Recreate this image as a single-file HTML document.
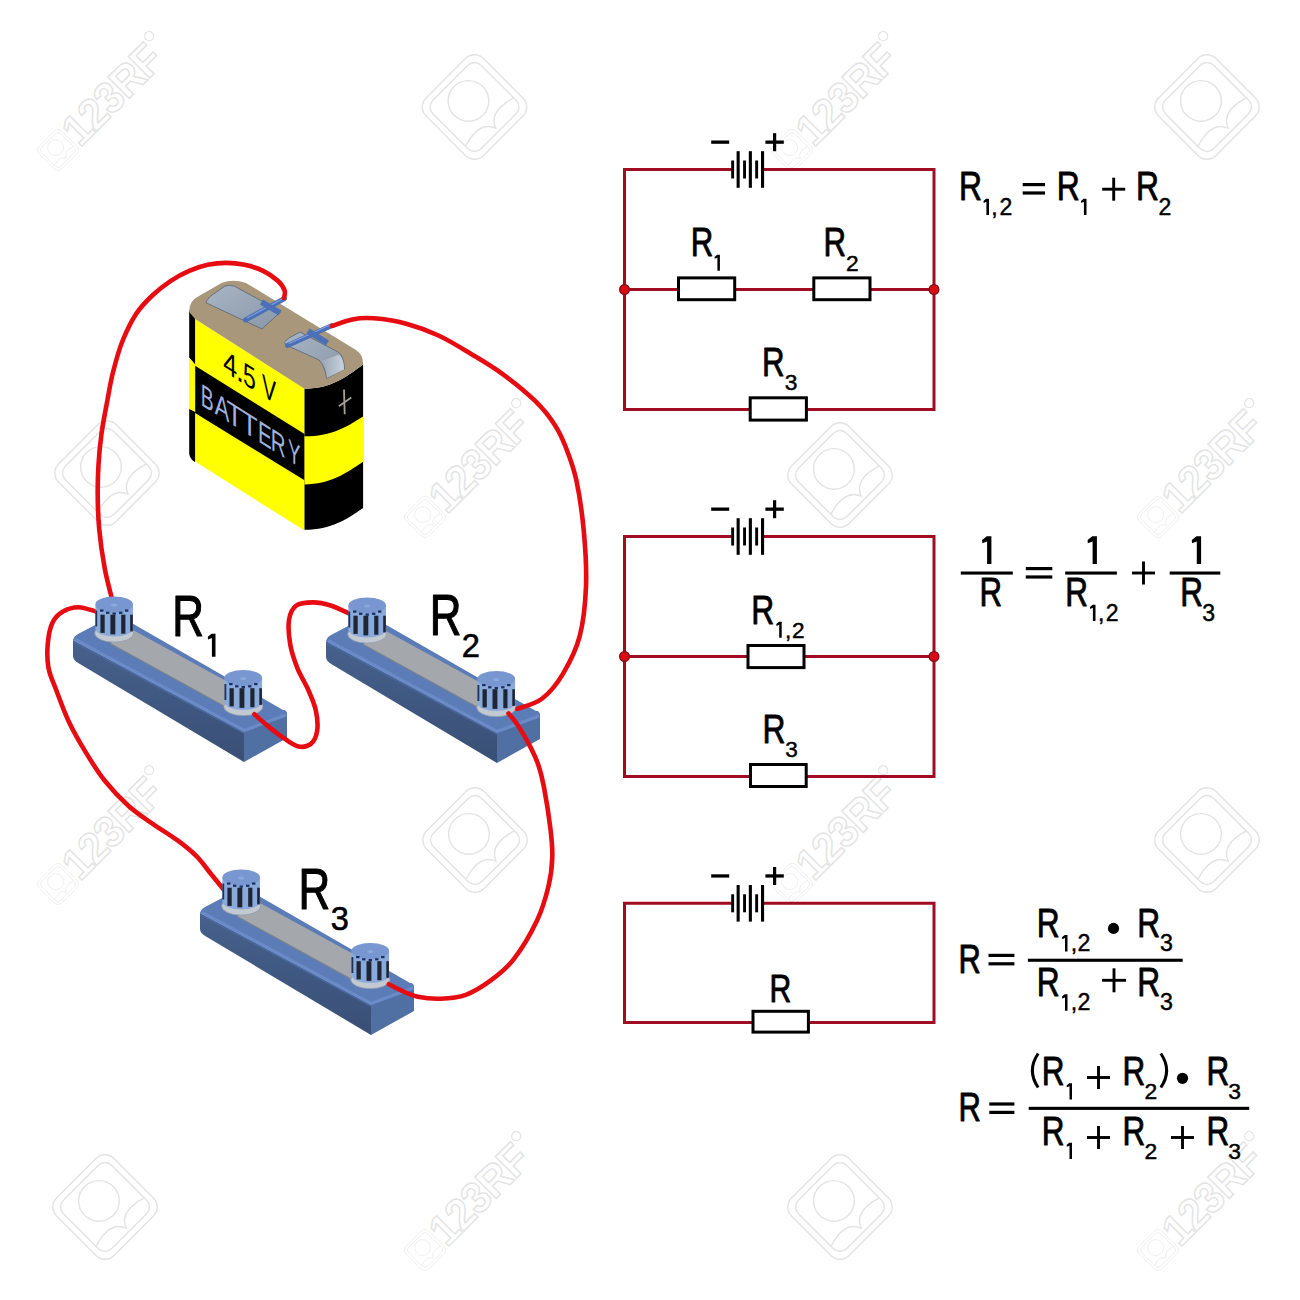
<!DOCTYPE html><html><head><meta charset="utf-8"><style>html,body{margin:0;padding:0;width:1300px;height:1300px;overflow:hidden;background:#fff}</style></head><body><svg width="1300" height="1300" viewBox="0 0 1300 1300" style="position:absolute;left:0;top:0" font-family="Liberation Sans, sans-serif"><rect width="1300" height="1300" fill="#fff"/><defs><linearGradient id="ff" x1="0" y1="0" x2="0" y2="1"><stop offset="0" stop-color="#46618c"/><stop offset="1" stop-color="#394f76"/></linearGradient></defs><g transform="translate(474.5,107) scale(1.07) rotate(45)" fill="none" stroke="#e3e3e3" stroke-width="1.3"><rect x="-38" y="-38" width="76" height="76" rx="12"/><rect x="-32" y="-32" width="64" height="64" rx="9"/><circle cx="-8" cy="0" r="19"/><path d="M20,-32 Q12,-6 28,0 Q12,6 20,32"/></g><g transform="translate(1207,107) scale(1.07) rotate(45)" fill="none" stroke="#e3e3e3" stroke-width="1.3"><rect x="-38" y="-38" width="76" height="76" rx="12"/><rect x="-32" y="-32" width="64" height="64" rx="9"/><circle cx="-8" cy="0" r="19"/><path d="M20,-32 Q12,-6 28,0 Q12,6 20,32"/></g><g transform="translate(107,473) scale(1.07) rotate(45)" fill="none" stroke="#e3e3e3" stroke-width="1.3"><rect x="-38" y="-38" width="76" height="76" rx="12"/><rect x="-32" y="-32" width="64" height="64" rx="9"/><circle cx="-8" cy="0" r="19"/><path d="M20,-32 Q12,-6 28,0 Q12,6 20,32"/></g><g transform="translate(840,475) scale(1.07) rotate(45)" fill="none" stroke="#e3e3e3" stroke-width="1.3"><rect x="-38" y="-38" width="76" height="76" rx="12"/><rect x="-32" y="-32" width="64" height="64" rx="9"/><circle cx="-8" cy="0" r="19"/><path d="M20,-32 Q12,-6 28,0 Q12,6 20,32"/></g><g transform="translate(475,840) scale(1.07) rotate(45)" fill="none" stroke="#e3e3e3" stroke-width="1.3"><rect x="-38" y="-38" width="76" height="76" rx="12"/><rect x="-32" y="-32" width="64" height="64" rx="9"/><circle cx="-8" cy="0" r="19"/><path d="M20,-32 Q12,-6 28,0 Q12,6 20,32"/></g><g transform="translate(1207,840) scale(1.07) rotate(45)" fill="none" stroke="#e3e3e3" stroke-width="1.3"><rect x="-38" y="-38" width="76" height="76" rx="12"/><rect x="-32" y="-32" width="64" height="64" rx="9"/><circle cx="-8" cy="0" r="19"/><path d="M20,-32 Q12,-6 28,0 Q12,6 20,32"/></g><g transform="translate(105,1207) scale(1.07) rotate(45)" fill="none" stroke="#e3e3e3" stroke-width="1.3"><rect x="-38" y="-38" width="76" height="76" rx="12"/><rect x="-32" y="-32" width="64" height="64" rx="9"/><circle cx="-8" cy="0" r="19"/><path d="M20,-32 Q12,-6 28,0 Q12,6 20,32"/></g><g transform="translate(840,1207) scale(1.07) rotate(45)" fill="none" stroke="#e3e3e3" stroke-width="1.3"><rect x="-38" y="-38" width="76" height="76" rx="12"/><rect x="-32" y="-32" width="64" height="64" rx="9"/><circle cx="-8" cy="0" r="19"/><path d="M20,-32 Q12,-6 28,0 Q12,6 20,32"/></g><g transform="translate(58,150) scale(0.42) rotate(45)" fill="none" stroke="#e3e3e3" stroke-width="1.3"><rect x="-38" y="-38" width="76" height="76" rx="12"/><rect x="-32" y="-32" width="64" height="64" rx="9"/><circle cx="-8" cy="0" r="19"/><path d="M20,-32 Q12,-6 28,0 Q12,6 20,32"/></g><g transform="translate(70,138) rotate(-45)"><text x="0" y="14" font-size="44" font-weight="bold" fill="none" stroke="#e3e3e3" stroke-width="1.4" letter-spacing="-1" transform="scale(0.95,1.0)">123RF</text><circle cx="128" cy="-16" r="4.5" fill="none" stroke="#e3e3e3" stroke-width="1.2"/></g><g transform="translate(792,150) scale(0.42) rotate(45)" fill="none" stroke="#e3e3e3" stroke-width="1.3"><rect x="-38" y="-38" width="76" height="76" rx="12"/><rect x="-32" y="-32" width="64" height="64" rx="9"/><circle cx="-8" cy="0" r="19"/><path d="M20,-32 Q12,-6 28,0 Q12,6 20,32"/></g><g transform="translate(804,138) rotate(-45)"><text x="0" y="14" font-size="44" font-weight="bold" fill="none" stroke="#e3e3e3" stroke-width="1.4" letter-spacing="-1" transform="scale(0.95,1.0)">123RF</text><circle cx="128" cy="-16" r="4.5" fill="none" stroke="#e3e3e3" stroke-width="1.2"/></g><g transform="translate(425,517) scale(0.42) rotate(45)" fill="none" stroke="#e3e3e3" stroke-width="1.3"><rect x="-38" y="-38" width="76" height="76" rx="12"/><rect x="-32" y="-32" width="64" height="64" rx="9"/><circle cx="-8" cy="0" r="19"/><path d="M20,-32 Q12,-6 28,0 Q12,6 20,32"/></g><g transform="translate(437,505) rotate(-45)"><text x="0" y="14" font-size="44" font-weight="bold" fill="none" stroke="#e3e3e3" stroke-width="1.4" letter-spacing="-1" transform="scale(0.95,1.0)">123RF</text><circle cx="128" cy="-16" r="4.5" fill="none" stroke="#e3e3e3" stroke-width="1.2"/></g><g transform="translate(1158,517) scale(0.42) rotate(45)" fill="none" stroke="#e3e3e3" stroke-width="1.3"><rect x="-38" y="-38" width="76" height="76" rx="12"/><rect x="-32" y="-32" width="64" height="64" rx="9"/><circle cx="-8" cy="0" r="19"/><path d="M20,-32 Q12,-6 28,0 Q12,6 20,32"/></g><g transform="translate(1170,505) rotate(-45)"><text x="0" y="14" font-size="44" font-weight="bold" fill="none" stroke="#e3e3e3" stroke-width="1.4" letter-spacing="-1" transform="scale(0.95,1.0)">123RF</text><circle cx="128" cy="-16" r="4.5" fill="none" stroke="#e3e3e3" stroke-width="1.2"/></g><g transform="translate(58,884) scale(0.42) rotate(45)" fill="none" stroke="#e3e3e3" stroke-width="1.3"><rect x="-38" y="-38" width="76" height="76" rx="12"/><rect x="-32" y="-32" width="64" height="64" rx="9"/><circle cx="-8" cy="0" r="19"/><path d="M20,-32 Q12,-6 28,0 Q12,6 20,32"/></g><g transform="translate(70,872) rotate(-45)"><text x="0" y="14" font-size="44" font-weight="bold" fill="none" stroke="#e3e3e3" stroke-width="1.4" letter-spacing="-1" transform="scale(0.95,1.0)">123RF</text><circle cx="128" cy="-16" r="4.5" fill="none" stroke="#e3e3e3" stroke-width="1.2"/></g><g transform="translate(792,884) scale(0.42) rotate(45)" fill="none" stroke="#e3e3e3" stroke-width="1.3"><rect x="-38" y="-38" width="76" height="76" rx="12"/><rect x="-32" y="-32" width="64" height="64" rx="9"/><circle cx="-8" cy="0" r="19"/><path d="M20,-32 Q12,-6 28,0 Q12,6 20,32"/></g><g transform="translate(804,872) rotate(-45)"><text x="0" y="14" font-size="44" font-weight="bold" fill="none" stroke="#e3e3e3" stroke-width="1.4" letter-spacing="-1" transform="scale(0.95,1.0)">123RF</text><circle cx="128" cy="-16" r="4.5" fill="none" stroke="#e3e3e3" stroke-width="1.2"/></g><g transform="translate(425,1250) scale(0.42) rotate(45)" fill="none" stroke="#e3e3e3" stroke-width="1.3"><rect x="-38" y="-38" width="76" height="76" rx="12"/><rect x="-32" y="-32" width="64" height="64" rx="9"/><circle cx="-8" cy="0" r="19"/><path d="M20,-32 Q12,-6 28,0 Q12,6 20,32"/></g><g transform="translate(437,1238) rotate(-45)"><text x="0" y="14" font-size="44" font-weight="bold" fill="none" stroke="#e3e3e3" stroke-width="1.4" letter-spacing="-1" transform="scale(0.95,1.0)">123RF</text><circle cx="128" cy="-16" r="4.5" fill="none" stroke="#e3e3e3" stroke-width="1.2"/></g><g transform="translate(1158,1250) scale(0.42) rotate(45)" fill="none" stroke="#e3e3e3" stroke-width="1.3"><rect x="-38" y="-38" width="76" height="76" rx="12"/><rect x="-32" y="-32" width="64" height="64" rx="9"/><circle cx="-8" cy="0" r="19"/><path d="M20,-32 Q12,-6 28,0 Q12,6 20,32"/></g><g transform="translate(1170,1238) rotate(-45)"><text x="0" y="14" font-size="44" font-weight="bold" fill="none" stroke="#e3e3e3" stroke-width="1.4" letter-spacing="-1" transform="scale(0.95,1.0)">123RF</text><circle cx="128" cy="-16" r="4.5" fill="none" stroke="#e3e3e3" stroke-width="1.2"/></g><path d="M732,169.5 H624.5 V409.5 H934.0 V169.5 H763" fill="none" stroke="#a00c22" stroke-width="3"/><path d="M624.5,289.5 H934.0" fill="none" stroke="#a00c22" stroke-width="3"/><rect x="731.2" y="160.5" width="2.9" height="18" fill="#000"/><rect x="736.6" y="151.2" width="3.1" height="36.6" fill="#000"/><rect x="743.1" y="160.5" width="2.9" height="18" fill="#000"/><rect x="748.8" y="151.2" width="3.1" height="36.6" fill="#000"/><rect x="755.2" y="160.5" width="2.9" height="18" fill="#000"/><rect x="761.0" y="151.2" width="3.1" height="36.6" fill="#000"/><rect x="711.2" y="140.5" width="18" height="3.3" fill="#000"/><rect x="765.4" y="140.5" width="18.4" height="3.3" fill="#000"/><rect x="773" y="133.2" width="3.2" height="18" fill="#000"/><circle cx="624.5" cy="289.5" r="4.9" fill="#da0c16" stroke="#860a16" stroke-width="1.2"/><circle cx="934.0" cy="289.5" r="4.9" fill="#da0c16" stroke="#860a16" stroke-width="1.2"/><rect x="678.5" y="277.9" width="56.2" height="21.8" fill="#fff" stroke="#000" stroke-width="3"/><rect x="813.8" y="277.9" width="56.2" height="21.8" fill="#fff" stroke="#000" stroke-width="3"/><rect x="750.2" y="397.8" width="56.2" height="22.3" fill="#fff" stroke="#000" stroke-width="3"/><text transform="translate(690.79,255.95) scale(0.770,1)" font-size="40.55" fill="#000" stroke="#000" stroke-width="0.90" stroke-linejoin="round">R</text><polygon points="717.1,254.7 719.9,254.7 719.9,270.8 717.4,270.8 717.4,257.8 714.7,258.8 714.5,256.9" fill="#000"/><text transform="translate(823.59,255.95) scale(0.770,1)" font-size="40.55" fill="#000" stroke="#000" stroke-width="0.90" stroke-linejoin="round">R</text><text transform="translate(846.08,270.57) scale(1.000,1)" font-size="22.75" fill="#000" stroke="#000" stroke-width="0.45" stroke-linejoin="round">2</text><text transform="translate(761.99,375.95) scale(0.770,1)" font-size="40.55" fill="#000" stroke="#000" stroke-width="0.90" stroke-linejoin="round">R</text><text transform="translate(784.86,390.17) scale(1.000,1)" font-size="22.75" fill="#000" stroke="#000" stroke-width="0.45" stroke-linejoin="round">3</text><path d="M732,536.5 H624.5 V776.5 H934.0 V536.5 H763" fill="none" stroke="#a00c22" stroke-width="3"/><path d="M624.5,656.5 H934.0" fill="none" stroke="#a00c22" stroke-width="3"/><rect x="731.2" y="527.5" width="2.9" height="18" fill="#000"/><rect x="736.6" y="518.2" width="3.1" height="36.6" fill="#000"/><rect x="743.1" y="527.5" width="2.9" height="18" fill="#000"/><rect x="748.8" y="518.2" width="3.1" height="36.6" fill="#000"/><rect x="755.2" y="527.5" width="2.9" height="18" fill="#000"/><rect x="761.0" y="518.2" width="3.1" height="36.6" fill="#000"/><rect x="711.2" y="507.5" width="18" height="3.3" fill="#000"/><rect x="765.4" y="507.5" width="18.4" height="3.3" fill="#000"/><rect x="773" y="500.2" width="3.2" height="18" fill="#000"/><circle cx="624.5" cy="656.5" r="4.9" fill="#da0c16" stroke="#860a16" stroke-width="1.2"/><circle cx="934.0" cy="656.5" r="4.9" fill="#da0c16" stroke="#860a16" stroke-width="1.2"/><rect x="748.0" y="645.5" width="56.0" height="22.1" fill="#fff" stroke="#000" stroke-width="3"/><rect x="750.5" y="764.5" width="55.7" height="22.0" fill="#fff" stroke="#000" stroke-width="3"/><text transform="translate(751.24,623.55) scale(0.770,1)" font-size="41.28" fill="#000" stroke="#000" stroke-width="0.90" stroke-linejoin="round">R</text><polygon points="778.9,621.8 781.7,621.8 781.7,637.8 779.2,637.8 779.2,624.8 776.5,625.9 776.3,624.0" fill="#000"/><text transform="translate(784.99,637.57) scale(1.000,1)" font-size="22.60" fill="#000" stroke="#000" stroke-width="0.45" stroke-linejoin="round">,</text><text transform="translate(791.99,637.57) scale(1.000,1)" font-size="22.60" fill="#000" stroke="#000" stroke-width="0.45" stroke-linejoin="round">2</text><text transform="translate(762.54,742.65) scale(0.770,1)" font-size="41.28" fill="#000" stroke="#000" stroke-width="0.90" stroke-linejoin="round">R</text><text transform="translate(785.16,756.88) scale(1.000,1)" font-size="22.60" fill="#000" stroke="#000" stroke-width="0.45" stroke-linejoin="round">3</text><path d="M732,903.3 H624.5 V1022.5 H934.0 V903.3 H763" fill="none" stroke="#a00c22" stroke-width="3"/><rect x="731.2" y="894.3" width="2.9" height="18" fill="#000"/><rect x="736.6" y="885.0" width="3.1" height="36.6" fill="#000"/><rect x="743.1" y="894.3" width="2.9" height="18" fill="#000"/><rect x="748.8" y="885.0" width="3.1" height="36.6" fill="#000"/><rect x="755.2" y="894.3" width="2.9" height="18" fill="#000"/><rect x="761.0" y="885.0" width="3.1" height="36.6" fill="#000"/><rect x="711.2" y="874.3" width="18" height="3.3" fill="#000"/><rect x="765.4" y="874.3" width="18.4" height="3.3" fill="#000"/><rect x="773" y="867.0" width="3.2" height="18" fill="#000"/><rect x="753.0" y="1011.3" width="55.4" height="20.8" fill="#fff" stroke="#000" stroke-width="3"/><text transform="translate(769.58,1002.45) scale(0.780,1)" font-size="38.66" fill="#000" stroke="#000" stroke-width="0.90" stroke-linejoin="round">R</text><text transform="translate(958.94,200.35) scale(0.770,1)" font-size="41.28" fill="#000" stroke="#000" stroke-width="0.90" stroke-linejoin="round">R</text><polygon points="986.1,198.7 989.0,198.7 989.0,215.0 986.4,215.0 986.4,201.8 983.7,202.9 983.5,200.9" fill="#000"/><text transform="translate(991.16,214.78) scale(1.000,1)" font-size="23.04" fill="#000" stroke="#000" stroke-width="0.45" stroke-linejoin="round">,</text><text transform="translate(999.47,214.78) scale(1.000,1)" font-size="23.04" fill="#000" stroke="#000" stroke-width="0.45" stroke-linejoin="round">2</text><rect x="1022.7" y="183.0" width="22.3" height="3.2" fill="#000"/><rect x="1022.7" y="191.4" width="22.3" height="3.2" fill="#000"/><text transform="translate(1056.64,200.35) scale(0.770,1)" font-size="41.28" fill="#000" stroke="#000" stroke-width="0.90" stroke-linejoin="round">R</text><polygon points="1083.6,198.7 1086.5,198.7 1086.5,215.0 1083.9,215.0 1083.9,201.8 1081.2,202.9 1081.0,200.9" fill="#000"/><rect x="1102.2" y="187.75" width="23.0" height="2.9" fill="#000"/><rect x="1112.25" y="177.7" width="2.9" height="23.0" fill="#000"/><text transform="translate(1136.04,200.35) scale(0.770,1)" font-size="41.28" fill="#000" stroke="#000" stroke-width="0.90" stroke-linejoin="round">R</text><text transform="translate(1158.57,214.78) scale(1.000,1)" font-size="23.04" fill="#000" stroke="#000" stroke-width="0.45" stroke-linejoin="round">2</text><polygon points="986.8,536.2 991.4,536.2 991.4,564.0 987.1,564.0 987.1,541.5 982.3,543.3 982.1,540.0" fill="#000"/><rect x="960.8" y="571.5" width="52.0" height="3.1" fill="#000"/><text transform="translate(979.59,606.35) scale(0.770,1)" font-size="40.55" fill="#000" stroke="#000" stroke-width="0.90" stroke-linejoin="round">R</text><rect x="1025.8" y="567.0" width="26.5" height="3.2" fill="#000"/><rect x="1025.8" y="575.4" width="26.5" height="3.2" fill="#000"/><polygon points="1092.3,536.2 1096.9,536.2 1096.9,564.0 1092.6,564.0 1092.6,541.5 1087.8,543.3 1087.6,540.0" fill="#000"/><rect x="1065.2" y="571.5" width="51.7" height="3.1" fill="#000"/><text transform="translate(1065.17,606.35) scale(0.770,1)" font-size="40.84" fill="#000" stroke="#000" stroke-width="0.90" stroke-linejoin="round">R</text><polygon points="1092.6,604.7 1095.5,604.7 1095.5,621.0 1092.9,621.0 1092.9,607.8 1090.2,608.9 1090.0,606.9" fill="#000"/><text transform="translate(1097.96,620.77) scale(1.000,1)" font-size="23.04" fill="#000" stroke="#000" stroke-width="0.45" stroke-linejoin="round">,</text><text transform="translate(1105.87,620.77) scale(1.000,1)" font-size="23.04" fill="#000" stroke="#000" stroke-width="0.45" stroke-linejoin="round">2</text><rect x="1132.0" y="571.55" width="23.0" height="2.9" fill="#000"/><rect x="1142.05" y="561.5" width="2.9" height="23.0" fill="#000"/><polygon points="1196.5,536.2 1201.1,536.2 1201.1,564.0 1196.8,564.0 1196.8,541.5 1192.0,543.3 1191.8,540.0" fill="#000"/><rect x="1169.7" y="571.5" width="50.6" height="3.1" fill="#000"/><text transform="translate(1180.37,606.35) scale(0.770,1)" font-size="40.84" fill="#000" stroke="#000" stroke-width="0.90" stroke-linejoin="round">R</text><text transform="translate(1202.35,620.77) scale(1.000,1)" font-size="23.04" fill="#000" stroke="#000" stroke-width="0.45" stroke-linejoin="round">3</text><text transform="translate(958.41,972.65) scale(0.770,1)" font-size="40.12" fill="#000" stroke="#000" stroke-width="0.90" stroke-linejoin="round">R</text><rect x="988.5" y="953.8" width="25.9" height="3.2" fill="#000"/><rect x="988.5" y="962.2" width="25.9" height="3.2" fill="#000"/><rect x="1027.9" y="958.7" width="154.8" height="3.1" fill="#000"/><text transform="translate(1036.75,936.85) scale(0.770,1)" font-size="41.13" fill="#000" stroke="#000" stroke-width="0.90" stroke-linejoin="round">R</text><polygon points="1064.7,935.0 1067.5,935.0 1067.5,951.4 1065.0,951.4 1065.0,938.1 1062.2,939.2 1062.0,937.2" fill="#000"/><text transform="translate(1070.74,951.17) scale(1.000,1)" font-size="23.18" fill="#000" stroke="#000" stroke-width="0.45" stroke-linejoin="round">,</text><text transform="translate(1077.46,951.17) scale(1.000,1)" font-size="23.18" fill="#000" stroke="#000" stroke-width="0.45" stroke-linejoin="round">2</text><circle cx="1113.5" cy="928.4" r="5.6" fill="#000"/><text transform="translate(1137.15,936.85) scale(0.770,1)" font-size="41.13" fill="#000" stroke="#000" stroke-width="0.90" stroke-linejoin="round">R</text><text transform="translate(1159.94,951.17) scale(1.000,1)" font-size="23.18" fill="#000" stroke="#000" stroke-width="0.45" stroke-linejoin="round">3</text><text transform="translate(1036.75,995.65) scale(0.770,1)" font-size="41.13" fill="#000" stroke="#000" stroke-width="0.90" stroke-linejoin="round">R</text><polygon points="1064.7,994.3 1067.5,994.3 1067.5,1010.7 1065.0,1010.7 1065.0,997.4 1062.2,998.5 1062.0,996.5" fill="#000"/><text transform="translate(1070.74,1010.48) scale(1.000,1)" font-size="23.18" fill="#000" stroke="#000" stroke-width="0.45" stroke-linejoin="round">,</text><text transform="translate(1077.46,1010.48) scale(1.000,1)" font-size="23.18" fill="#000" stroke="#000" stroke-width="0.45" stroke-linejoin="round">2</text><rect x="1102.0" y="978.85" width="24.0" height="2.9" fill="#000"/><rect x="1112.55" y="968.3" width="2.9" height="24.0" fill="#000"/><text transform="translate(1137.15,995.65) scale(0.770,1)" font-size="41.13" fill="#000" stroke="#000" stroke-width="0.90" stroke-linejoin="round">R</text><text transform="translate(1159.94,1010.48) scale(1.000,1)" font-size="23.18" fill="#000" stroke="#000" stroke-width="0.45" stroke-linejoin="round">3</text><text transform="translate(958.50,1120.85) scale(0.770,1)" font-size="40.26" fill="#000" stroke="#000" stroke-width="0.90" stroke-linejoin="round">R</text><rect x="989.3" y="1102.4" width="25.1" height="3.2" fill="#000"/><rect x="989.3" y="1110.8" width="25.1" height="3.2" fill="#000"/><rect x="1028.7" y="1106.8" width="220.5" height="3.1" fill="#000"/><path d="M1038.2,1053.5 Q1026.5,1070.5 1038.2,1087.5" fill="none" stroke="#000" stroke-width="3"/><text transform="translate(1041.77,1084.65) scale(0.770,1)" font-size="40.84" fill="#000" stroke="#000" stroke-width="0.90" stroke-linejoin="round">R</text><polygon points="1069.2,1083.2 1072.0,1083.2 1072.0,1099.4 1069.5,1099.4 1069.5,1086.3 1066.8,1087.3 1066.6,1085.4" fill="#000"/><rect x="1087.0" y="1076.05" width="23.0" height="2.9" fill="#000"/><rect x="1097.05" y="1066.0" width="2.9" height="23.0" fill="#000"/><text transform="translate(1122.57,1084.65) scale(0.770,1)" font-size="40.84" fill="#000" stroke="#000" stroke-width="0.90" stroke-linejoin="round">R</text><text transform="translate(1144.57,1099.18) scale(1.000,1)" font-size="22.89" fill="#000" stroke="#000" stroke-width="0.45" stroke-linejoin="round">2</text><path d="M1160.8,1053.5 Q1172.5,1070.5 1160.8,1087.5" fill="none" stroke="#000" stroke-width="3"/><circle cx="1182.5" cy="1078.3" r="5.6" fill="#000"/><text transform="translate(1206.47,1084.65) scale(0.770,1)" font-size="40.84" fill="#000" stroke="#000" stroke-width="0.90" stroke-linejoin="round">R</text><text transform="translate(1228.35,1099.18) scale(1.000,1)" font-size="22.89" fill="#000" stroke="#000" stroke-width="0.45" stroke-linejoin="round">3</text><text transform="translate(1041.77,1144.65) scale(0.770,1)" font-size="40.84" fill="#000" stroke="#000" stroke-width="0.90" stroke-linejoin="round">R</text><polygon points="1069.2,1142.7 1072.0,1142.7 1072.0,1158.9 1069.5,1158.9 1069.5,1145.8 1066.8,1146.8 1066.6,1144.9" fill="#000"/><rect x="1087.0" y="1136.05" width="23.0" height="2.9" fill="#000"/><rect x="1097.05" y="1126.0" width="2.9" height="23.0" fill="#000"/><text transform="translate(1122.57,1144.65) scale(0.770,1)" font-size="40.84" fill="#000" stroke="#000" stroke-width="0.90" stroke-linejoin="round">R</text><text transform="translate(1144.57,1158.68) scale(1.000,1)" font-size="22.89" fill="#000" stroke="#000" stroke-width="0.45" stroke-linejoin="round">2</text><rect x="1171.0" y="1136.05" width="23.0" height="2.9" fill="#000"/><rect x="1181.05" y="1126.0" width="2.9" height="23.0" fill="#000"/><text transform="translate(1206.47,1144.65) scale(0.770,1)" font-size="40.84" fill="#000" stroke="#000" stroke-width="0.90" stroke-linejoin="round">R</text><text transform="translate(1228.35,1158.68) scale(1.000,1)" font-size="22.89" fill="#000" stroke="#000" stroke-width="0.45" stroke-linejoin="round">3</text><polygon points="195.1,318.9 304.5,388.5 304.5,530.6 195.1,461.5" fill="#ffff00"/><polygon points="195.1,365.8 304.5,433.9 304.5,480.3 195.1,413.0" fill="#000000"/><path d="M189.2,310 L195.1,316 L195.1,364.5 L189.2,357.7 Z" fill="#000000"/><path d="M189.2,357.7 L195.1,364.5 L195.1,412 L189.2,409 Z" fill="#ffff00"/><path d="M189.2,409 L195.1,412 L195.1,462 Q190.5,460 189.2,454 Z" fill="#000000"/><path d="M304.5,388.7 C330,389 345,378 363.1,364.6 L363.1,507.9 C348,519 330,530 304.5,529.8 Z" fill="#000000"/><path d="M304.5,436.3 C330,436.5 345,428 363.1,416.5 L363.1,461.8 C345,474 330,484 304.5,484.5 Z" fill="#ffff00"/><path d="M189.2,312 Q188.8,301 199,296 L222,282.8 Q233,278.5 246,283 L356,350 Q363.5,355 363.1,364.6 C345,378 330,389 304.5,388.7 L195.1,318.9 Z" fill="#a8977b"/><defs><linearGradient id="pl" x1="0" y1="0" x2="1" y2="1"><stop offset="0" stop-color="#a9b6c4"/><stop offset="1" stop-color="#8896a6"/></linearGradient><linearGradient id="pl2" x1="0" y1="0" x2="1" y2="0"><stop offset="0" stop-color="#9aa6b4"/><stop offset="1" stop-color="#c9d2de"/></linearGradient></defs><path d="M206.2,301.5 L210,296.5 L225,286 Q229,284.5 234,286 L281,311.5 L262,329 L238.5,318 L206.5,303 Z" fill="url(#pl)" stroke="#5d6b7b" stroke-width="0.9"/><path d="M284.5,342 L289,338 L300,332 L338,352 Q344,356 344.5,369 L326.5,378.5 Q325,366 319,360 L286,345 Z" fill="url(#pl)" stroke="#5d6b7b" stroke-width="0.9"/><path d="M321,361.5 Q326,366 327,378 L344,369.5 Q344,359 339,354.5 Z" fill="url(#pl2)"/><path d="M245.5,320 L284.5,298.5" stroke="#4c70b8" stroke-width="5" stroke-linecap="round"/><path d="M247,318 L283,298.5" stroke="#7f9fdc" stroke-width="1.2"/><path d="M261.5,302 L280,313" stroke="#4c70b8" stroke-width="6" stroke-linecap="butt"/><path d="M287.5,345.5 L332,325.5" stroke="#4c70b8" stroke-width="5" stroke-linecap="round"/><path d="M289,343.5 L330,325" stroke="#7f9fdc" stroke-width="1.2"/><path d="M308,331 L327.5,343" stroke="#4c70b8" stroke-width="6" stroke-linecap="butt"/><g transform="matrix(1,0.636,0,1,0,0)"><text transform="translate(223.33,228.92) scale(0.780,1)" font-size="31.98" fill="#000">4</text></g><g transform="matrix(1,0.636,0,1,0,0)"><text transform="translate(235.97,228.92) scale(0.900,1)" font-size="31.98" fill="#000">.</text></g><g transform="matrix(1,0.636,0,1,0,0)"><text transform="translate(243.08,228.92) scale(0.720,1)" font-size="31.98" fill="#000">5</text></g><g transform="matrix(1,0.636,0,1,0,0)"><text transform="translate(262.11,228.92) scale(0.660,1)" font-size="31.98" fill="#000">V</text></g><g transform="matrix(1,0.636,0,1,0,0)"><text transform="translate(200.71,277.00) scale(0.620,1)" font-size="31.25" fill="#9fb2df">B</text></g><g transform="matrix(1,0.636,0,1,0,0)"><text transform="translate(214.76,277.00) scale(0.700,1)" font-size="31.25" fill="#9fb2df">A</text></g><g transform="matrix(1,0.636,0,1,0,0)"><text transform="translate(226.40,277.00) scale(0.850,1)" font-size="31.25" fill="#9fb2df">T</text></g><g transform="matrix(1,0.636,0,1,0,0)"><text transform="translate(241.40,277.00) scale(0.850,1)" font-size="31.25" fill="#9fb2df">T</text></g><g transform="matrix(1,0.636,0,1,0,0)"><text transform="translate(258.11,277.00) scale(0.660,1)" font-size="31.25" fill="#9fb2df">E</text></g><g transform="matrix(1,0.636,0,1,0,0)"><text transform="translate(270.81,277.00) scale(0.660,1)" font-size="31.25" fill="#9fb2df">R</text></g><g transform="matrix(1,0.636,0,1,0,0)"><text transform="translate(287.89,277.00) scale(0.600,1)" font-size="31.25" fill="#9fb2df">Y</text></g><path d="M344,389.5 L344.7,414.3 M338.9,406.3 L351.3,397.5" stroke="#a8a096" stroke-width="1.8"/><path d="M284.0,298.0 C284.1,296.8 285.6,293.5 284.6,290.6 C283.6,287.7 281.4,284.1 277.8,280.8 C274.2,277.5 268.6,273.6 263.1,270.9 C257.6,268.2 250.8,266.1 244.6,264.8 C238.4,263.5 232.3,262.9 226.2,262.9 C220.0,262.9 213.9,263.5 207.7,264.8 C201.5,266.1 195.3,268.2 189.2,270.9 C183.0,273.6 177.0,276.7 170.8,280.8 C164.7,284.9 158.1,290.0 152.3,295.5 C146.5,301.0 141.2,306.1 136.2,313.8 C131.2,321.5 126.2,331.8 122.3,341.5 C118.4,351.2 115.6,362.1 113.0,372.3 C110.4,382.6 108.8,392.8 106.9,403.0 C105.0,413.2 102.9,423.5 101.5,433.8 C100.1,444.1 99.1,454.4 98.5,464.6 C97.9,474.8 97.6,484.3 97.7,495.0 C97.8,505.7 98.1,516.9 99.2,529.0 C100.3,541.1 102.5,556.4 104.6,567.7 C106.6,579.0 110.3,592.1 111.5,597.0" fill="none" stroke="#e60c12" stroke-width="4.6" stroke-linecap="round"/><path d="M96.0,611.5 C93.1,610.8 84.0,607.2 78.5,607.2 C73.0,607.2 67.4,608.9 63.0,611.5 C58.6,614.1 54.8,617.5 52.3,623.0 C49.8,628.5 48.3,637.1 47.7,644.6 C47.1,652.1 47.1,660.4 48.5,668.0 C49.9,675.6 52.8,681.0 56.2,690.0 C59.6,699.0 64.3,712.1 69.1,722.3 C73.9,732.5 79.3,741.7 85.2,751.4 C91.1,761.1 97.3,771.4 104.6,780.5 C111.9,789.6 120.8,799.0 128.9,806.3 C137.0,813.6 145.0,818.5 153.1,824.1 C161.2,829.8 170.0,834.8 177.3,840.2 C184.6,845.6 191.0,850.7 196.7,856.4 C202.3,862.1 206.6,868.6 211.2,874.2 C215.8,879.8 221.9,887.4 224.0,890.0" fill="none" stroke="#e60c12" stroke-width="4.6" stroke-linecap="round"/><g transform="translate(0,0)"><path d="M73.0,640.0 L244.0,731.0 L244.0,762.0 L79.0,663.5 Q73.0,660.0 73.0,656.0 Z" fill="url(#ff)"/><path d="M244.0,731.0 L283.0,710.0 Q287.0,710.0 287.0,715.0 L287.0,738.0 L244.0,762.0 Z" fill="#5070a4"/><path d="M73.0,640.0 Q74.0,636.0 78.0,634.0 L116.0,614.0 L283.0,710.0 Q287.0,710.0 287.0,715.0 L244.0,731.0 Z" fill="#5b7cb7"/><path d="M75.0,639.5 L244.0,730.5 L286.0,715.0" fill="none" stroke="#6a8bc8" stroke-width="3.4" stroke-linejoin="round"/><path d="M73.5,642.0 L244.0,733.2" fill="none" stroke="#4a6aa0" stroke-width="1.2"/><polygon points="109.8,643.3 231.2,710.0 255.3,697.1 133.9,630.4" fill="#a4a8ad"/><path d="M109.8,643.3 L231.2,710.0" stroke="#7b838d" stroke-width="1.1"/><ellipse cx="114.2" cy="633.0" rx="19.6" ry="9.2" fill="#c3c9d1"/><ellipse cx="114.2" cy="633.0" rx="19.6" ry="9.2" fill="none" stroke="#8d98a8" stroke-width="0.8"/><path d="M95.4,604.5 V628.5 A18.8,8.0 0 0 0 133.0,628.5 V604.5 Z" fill="#8aaadc"/><rect x="100.4" y="614.7" width="4.3" height="18.2" fill="#1e2636"/><rect x="110.4" y="614.7" width="4.9" height="19.7" fill="#1e2636"/><rect x="121.2" y="614.7" width="4.2" height="19.0" fill="#1e2636"/><rect x="130.2" y="614.7" width="2.6" height="16.7" fill="#1e2636"/><rect x="95.4" y="610.5" width="1.8" height="16" fill="#1f3358"/><ellipse cx="114.2" cy="604.5" rx="18.8" ry="8.0" fill="#7897d0"/><rect x="100.0" y="609.5" width="3.4" height="2.2" fill="#1a2f5c"/><rect x="106.0" y="611.7" width="3.4" height="2.2" fill="#1a2f5c"/><rect x="112.5" y="612.5" width="3.4" height="2.2" fill="#1a2f5c"/><rect x="119.0" y="611.7" width="3.4" height="2.2" fill="#1a2f5c"/><rect x="125.0" y="609.5" width="3.4" height="2.2" fill="#1a2f5c"/><ellipse cx="114.2" cy="605.0" rx="3" ry="1.5" fill="#8aa9dc"/><ellipse cx="243.3" cy="706.5" rx="19.6" ry="9.2" fill="#c3c9d1"/><ellipse cx="243.3" cy="706.5" rx="19.6" ry="9.2" fill="none" stroke="#8d98a8" stroke-width="0.8"/><path d="M224.5,678.0 V702.0 A18.8,8.0 0 0 0 262.1,702.0 V678.0 Z" fill="#8aaadc"/><rect x="229.5" y="688.2" width="4.3" height="18.2" fill="#1e2636"/><rect x="239.5" y="688.2" width="4.9" height="19.7" fill="#1e2636"/><rect x="250.3" y="688.2" width="4.2" height="19.0" fill="#1e2636"/><rect x="259.3" y="688.2" width="2.6" height="16.7" fill="#1e2636"/><rect x="224.5" y="684.0" width="1.8" height="16" fill="#1f3358"/><ellipse cx="243.3" cy="678.0" rx="18.8" ry="8.0" fill="#7897d0"/><rect x="229.1" y="683.0" width="3.4" height="2.2" fill="#1a2f5c"/><rect x="235.1" y="685.2" width="3.4" height="2.2" fill="#1a2f5c"/><rect x="241.6" y="686.0" width="3.4" height="2.2" fill="#1a2f5c"/><rect x="248.1" y="685.2" width="3.4" height="2.2" fill="#1a2f5c"/><rect x="254.1" y="683.0" width="3.4" height="2.2" fill="#1a2f5c"/><ellipse cx="243.3" cy="678.5" rx="3" ry="1.5" fill="#8aa9dc"/></g><path d="M254.4,714.2 C256.4,715.9 261.3,720.7 266.1,724.6 C270.9,728.5 277.9,734.1 283.1,737.7 C288.3,741.3 292.9,745.1 297.5,746.2 C302.1,747.3 307.3,746.7 310.6,744.2 C313.9,741.7 316.2,736.9 317.1,731.2 C318.0,725.6 317.3,717.3 315.8,710.3 C314.3,703.3 311.1,696.3 308.0,689.3 C304.9,682.3 300.4,675.8 297.5,668.4 C294.6,661.0 291.7,653.0 290.3,644.9 C288.9,636.8 288.0,626.5 289.0,620.0 C290.0,613.5 292.2,608.6 296.2,605.7 C300.2,602.8 307.3,602.4 313.2,602.4 C319.1,602.4 325.5,603.9 331.5,605.7 C337.5,607.6 346.1,612.2 349.0,613.5" fill="none" stroke="#e60c12" stroke-width="4.6" stroke-linecap="round"/><g transform="translate(253,1)"><path d="M73.0,640.0 L244.0,731.0 L244.0,762.0 L79.0,663.5 Q73.0,660.0 73.0,656.0 Z" fill="url(#ff)"/><path d="M244.0,731.0 L283.0,710.0 Q287.0,710.0 287.0,715.0 L287.0,738.0 L244.0,762.0 Z" fill="#5070a4"/><path d="M73.0,640.0 Q74.0,636.0 78.0,634.0 L116.0,614.0 L283.0,710.0 Q287.0,710.0 287.0,715.0 L244.0,731.0 Z" fill="#5b7cb7"/><path d="M75.0,639.5 L244.0,730.5 L286.0,715.0" fill="none" stroke="#6a8bc8" stroke-width="3.4" stroke-linejoin="round"/><path d="M73.5,642.0 L244.0,733.2" fill="none" stroke="#4a6aa0" stroke-width="1.2"/><polygon points="109.8,643.3 231.2,710.0 255.3,697.1 133.9,630.4" fill="#a4a8ad"/><path d="M109.8,643.3 L231.2,710.0" stroke="#7b838d" stroke-width="1.1"/><ellipse cx="114.2" cy="633.0" rx="19.6" ry="9.2" fill="#c3c9d1"/><ellipse cx="114.2" cy="633.0" rx="19.6" ry="9.2" fill="none" stroke="#8d98a8" stroke-width="0.8"/><path d="M95.4,604.5 V628.5 A18.8,8.0 0 0 0 133.0,628.5 V604.5 Z" fill="#8aaadc"/><rect x="100.4" y="614.7" width="4.3" height="18.2" fill="#1e2636"/><rect x="110.4" y="614.7" width="4.9" height="19.7" fill="#1e2636"/><rect x="121.2" y="614.7" width="4.2" height="19.0" fill="#1e2636"/><rect x="130.2" y="614.7" width="2.6" height="16.7" fill="#1e2636"/><rect x="95.4" y="610.5" width="1.8" height="16" fill="#1f3358"/><ellipse cx="114.2" cy="604.5" rx="18.8" ry="8.0" fill="#7897d0"/><rect x="100.0" y="609.5" width="3.4" height="2.2" fill="#1a2f5c"/><rect x="106.0" y="611.7" width="3.4" height="2.2" fill="#1a2f5c"/><rect x="112.5" y="612.5" width="3.4" height="2.2" fill="#1a2f5c"/><rect x="119.0" y="611.7" width="3.4" height="2.2" fill="#1a2f5c"/><rect x="125.0" y="609.5" width="3.4" height="2.2" fill="#1a2f5c"/><ellipse cx="114.2" cy="605.0" rx="3" ry="1.5" fill="#8aa9dc"/><ellipse cx="243.3" cy="706.5" rx="19.6" ry="9.2" fill="#c3c9d1"/><ellipse cx="243.3" cy="706.5" rx="19.6" ry="9.2" fill="none" stroke="#8d98a8" stroke-width="0.8"/><path d="M224.5,678.0 V702.0 A18.8,8.0 0 0 0 262.1,702.0 V678.0 Z" fill="#8aaadc"/><rect x="229.5" y="688.2" width="4.3" height="18.2" fill="#1e2636"/><rect x="239.5" y="688.2" width="4.9" height="19.7" fill="#1e2636"/><rect x="250.3" y="688.2" width="4.2" height="19.0" fill="#1e2636"/><rect x="259.3" y="688.2" width="2.6" height="16.7" fill="#1e2636"/><rect x="224.5" y="684.0" width="1.8" height="16" fill="#1f3358"/><ellipse cx="243.3" cy="678.0" rx="18.8" ry="8.0" fill="#7897d0"/><rect x="229.1" y="683.0" width="3.4" height="2.2" fill="#1a2f5c"/><rect x="235.1" y="685.2" width="3.4" height="2.2" fill="#1a2f5c"/><rect x="241.6" y="686.0" width="3.4" height="2.2" fill="#1a2f5c"/><rect x="248.1" y="685.2" width="3.4" height="2.2" fill="#1a2f5c"/><rect x="254.1" y="683.0" width="3.4" height="2.2" fill="#1a2f5c"/><ellipse cx="243.3" cy="678.5" rx="3" ry="1.5" fill="#8aa9dc"/></g><path d="M332.0,326.0 C335.4,324.9 345.3,320.7 352.3,319.4 C359.3,318.1 364.8,317.6 373.8,318.3 C382.8,319.0 395.4,320.8 406.2,323.7 C417.0,326.6 427.7,330.5 438.5,335.5 C449.3,340.5 460.1,347.3 470.8,353.8 C481.6,360.3 492.2,366.4 503.0,374.3 C513.8,382.2 526.8,392.8 535.4,401.2 C544.0,409.6 549.8,417.3 554.8,424.9 C559.8,432.4 561.9,437.3 565.5,446.5 C569.1,455.7 573.2,465.7 576.3,480.0 C579.4,494.3 582.3,514.6 583.9,532.3 C585.5,550.0 586.7,569.0 586.0,586.3 C585.3,603.6 583.5,621.7 579.7,636.2 C575.9,650.8 569.3,663.2 563.1,673.6 C556.9,684.0 549.9,692.6 542.3,698.5 C534.7,704.4 521.5,707.2 517.4,708.9" fill="none" stroke="#e60c12" stroke-width="4.6" stroke-linecap="round"/><g transform="translate(127,273)"><path d="M73.0,640.0 L244.0,731.0 L244.0,762.0 L79.0,663.5 Q73.0,660.0 73.0,656.0 Z" fill="url(#ff)"/><path d="M244.0,731.0 L283.0,710.0 Q287.0,710.0 287.0,715.0 L287.0,738.0 L244.0,762.0 Z" fill="#5070a4"/><path d="M73.0,640.0 Q74.0,636.0 78.0,634.0 L116.0,614.0 L283.0,710.0 Q287.0,710.0 287.0,715.0 L244.0,731.0 Z" fill="#5b7cb7"/><path d="M75.0,639.5 L244.0,730.5 L286.0,715.0" fill="none" stroke="#6a8bc8" stroke-width="3.4" stroke-linejoin="round"/><path d="M73.5,642.0 L244.0,733.2" fill="none" stroke="#4a6aa0" stroke-width="1.2"/><polygon points="109.8,643.3 231.2,710.0 255.3,697.1 133.9,630.4" fill="#a4a8ad"/><path d="M109.8,643.3 L231.2,710.0" stroke="#7b838d" stroke-width="1.1"/><ellipse cx="114.2" cy="633.0" rx="19.6" ry="9.2" fill="#c3c9d1"/><ellipse cx="114.2" cy="633.0" rx="19.6" ry="9.2" fill="none" stroke="#8d98a8" stroke-width="0.8"/><path d="M95.4,604.5 V628.5 A18.8,8.0 0 0 0 133.0,628.5 V604.5 Z" fill="#8aaadc"/><rect x="100.4" y="614.7" width="4.3" height="18.2" fill="#1e2636"/><rect x="110.4" y="614.7" width="4.9" height="19.7" fill="#1e2636"/><rect x="121.2" y="614.7" width="4.2" height="19.0" fill="#1e2636"/><rect x="130.2" y="614.7" width="2.6" height="16.7" fill="#1e2636"/><rect x="95.4" y="610.5" width="1.8" height="16" fill="#1f3358"/><ellipse cx="114.2" cy="604.5" rx="18.8" ry="8.0" fill="#7897d0"/><rect x="100.0" y="609.5" width="3.4" height="2.2" fill="#1a2f5c"/><rect x="106.0" y="611.7" width="3.4" height="2.2" fill="#1a2f5c"/><rect x="112.5" y="612.5" width="3.4" height="2.2" fill="#1a2f5c"/><rect x="119.0" y="611.7" width="3.4" height="2.2" fill="#1a2f5c"/><rect x="125.0" y="609.5" width="3.4" height="2.2" fill="#1a2f5c"/><ellipse cx="114.2" cy="605.0" rx="3" ry="1.5" fill="#8aa9dc"/><ellipse cx="243.3" cy="706.5" rx="19.6" ry="9.2" fill="#c3c9d1"/><ellipse cx="243.3" cy="706.5" rx="19.6" ry="9.2" fill="none" stroke="#8d98a8" stroke-width="0.8"/><path d="M224.5,678.0 V702.0 A18.8,8.0 0 0 0 262.1,702.0 V678.0 Z" fill="#8aaadc"/><rect x="229.5" y="688.2" width="4.3" height="18.2" fill="#1e2636"/><rect x="239.5" y="688.2" width="4.9" height="19.7" fill="#1e2636"/><rect x="250.3" y="688.2" width="4.2" height="19.0" fill="#1e2636"/><rect x="259.3" y="688.2" width="2.6" height="16.7" fill="#1e2636"/><rect x="224.5" y="684.0" width="1.8" height="16" fill="#1f3358"/><ellipse cx="243.3" cy="678.0" rx="18.8" ry="8.0" fill="#7897d0"/><rect x="229.1" y="683.0" width="3.4" height="2.2" fill="#1a2f5c"/><rect x="235.1" y="685.2" width="3.4" height="2.2" fill="#1a2f5c"/><rect x="241.6" y="686.0" width="3.4" height="2.2" fill="#1a2f5c"/><rect x="248.1" y="685.2" width="3.4" height="2.2" fill="#1a2f5c"/><rect x="254.1" y="683.0" width="3.4" height="2.2" fill="#1a2f5c"/><ellipse cx="243.3" cy="678.5" rx="3" ry="1.5" fill="#8aa9dc"/></g><path d="M508.5,713.5 C510.0,715.4 514.2,719.8 517.7,725.0 C521.2,730.2 525.7,737.9 529.2,744.6 C532.7,751.3 536.0,758.1 538.5,765.4 C541.0,772.7 542.2,778.0 544.2,788.5 C546.2,799.0 549.0,817.0 550.4,828.5 C551.8,840.0 552.6,847.7 552.3,857.3 C552.0,866.9 551.1,875.6 548.5,886.2 C545.9,896.8 542.7,908.6 536.9,920.8 C531.1,933.0 521.5,949.3 513.8,959.2 C506.1,969.1 498.8,974.5 490.8,980.4 C482.8,986.3 474.1,991.8 465.8,994.8 C457.5,997.8 448.8,998.4 440.8,998.7 C432.8,999.0 424.1,998.0 417.7,996.7 C411.3,995.4 407.1,993.1 402.3,991.0 C397.5,988.9 391.1,985.3 388.8,984.2" fill="none" stroke="#e60c12" stroke-width="4.6" stroke-linecap="round"/><text transform="translate(172.35,635.50) scale(0.755,1)" font-size="58.14" fill="#000" stroke="#000" stroke-width="1.20" stroke-linejoin="round">R</text><polygon points="211.6,633.7 215.5,633.7 215.5,656.7 211.9,656.7 211.9,638.1 208.0,639.6 207.8,636.8" fill="#000"/><text transform="translate(429.65,635.20) scale(0.755,1)" font-size="58.14" fill="#000" stroke="#000" stroke-width="1.20" stroke-linejoin="round">R</text><text transform="translate(461.66,656.70) scale(1.000,1)" font-size="32.56" fill="#000" stroke="#000" stroke-width="0.60" stroke-linejoin="round">2</text><text transform="translate(298.45,908.60) scale(0.755,1)" font-size="58.14" fill="#000" stroke="#000" stroke-width="1.20" stroke-linejoin="round">R</text><text transform="translate(330.76,930.00) scale(1.000,1)" font-size="32.56" fill="#000" stroke="#000" stroke-width="0.60" stroke-linejoin="round">3</text></svg></body></html>
